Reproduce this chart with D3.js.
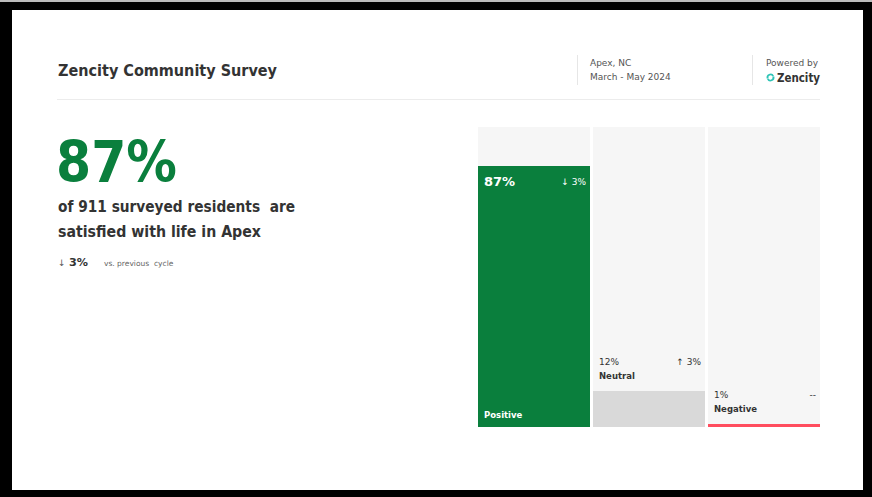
<!DOCTYPE html>
<html>
<head>
<meta charset="utf-8">
<script src="https://cdn.jsdelivr.net/npm/d3@7"></script>
<style>
  html, body { margin: 0; padding: 0; background: #000; }
  svg { display: block; }
  text { font-family: "DejaVu Sans", Verdana, sans-serif; white-space: pre; }
</style>
</head>
<body>
<svg id="chart" width="872" height="497"></svg>
<script>
"use strict"

// survey data
const categories = ["Positive", "Neutral", "Negative"]
const shares     = [87, 12, 1]
const changes    = ["↓ 3%", "↑ 3%", "--"]
const barColors  = ["#0a7f3d", "#d9d9d9", "#ff4d5e"]

const title    = "Zencity Community Survey"
const place    = ["Apex, NC", "March - May 2024"]
const headline = "87%"
const subtitle = ["of 911 surveyed residents  are", "satisfied with life in Apex"]
const delta    = ["↓", "3%", "vs. previous  cycle"]

const svg = d3.select("#chart")

// frame
svg.append("rect").attr("x", 0).attr("y", 0).attr("width", 872).attr("height", 2).attr("fill", "#bbb")
svg.append("rect").attr("x", 12).attr("y", 10).attr("width", 851).attr("height", 480).attr("fill", "#fff")

// header
svg.append("text").attr("x", 58).attr("y", 76)
   .attr("font-size", 15.5).attr("font-weight", "bold").attr("fill", "#333")
   .attr("textLength", 219).attr("lengthAdjust", "spacingAndGlyphs")
   .text(title)

svg.append("line").attr("x1", 57).attr("x2", 820).attr("y1", 99.5).attr("y2", 99.5)
   .attr("stroke", "#ececec").attr("stroke-width", 1)

svg.selectAll("line.sep").data([577.5, 752.5]).enter().append("line")
   .attr("class", "sep")
   .attr("x1", d => d).attr("x2", d => d).attr("y1", 55).attr("y2", 85)
   .attr("stroke", "#e6e6e6")

svg.selectAll("text.place").data(place).enter().append("text")
   .attr("class", "place")
   .attr("x", 590).attr("y", (d, i) => 66 + i * 14)
   .attr("font-size", 9).attr("fill", "#555")
   .text(d => d)

svg.append("text").attr("x", 766).attr("y", 66)
   .attr("font-size", 9).attr("fill", "#555").text("Powered by")

// little sync-like logo mark
const logo = svg.append("g").attr("transform", "translate(770.5,77.5)")
const arc = d3.arc().innerRadius(2.1).outerRadius(3.9)
logo.append("path").attr("d", arc({startAngle: -1.9, endAngle: 1.1})).attr("fill", "#2ec4b6")
logo.append("path").attr("d", arc({startAngle: Math.PI - 1.9, endAngle: Math.PI + 1.1})).attr("fill", "#2ec4b6")
svg.append("text").attr("x", 777).attr("y", 81.5)
   .attr("font-size", 12).attr("font-weight", "bold").attr("fill", "#333")
   .attr("textLength", 43).attr("lengthAdjust", "spacingAndGlyphs")
   .text("Zencity")

// big number block
svg.append("text").attr("x", 56).attr("y", 182)
   .attr("font-size", 57).attr("font-weight", "bold").attr("fill", "#0a7f3d")
   .attr("textLength", 121).attr("lengthAdjust", "spacingAndGlyphs")
   .text(headline)

svg.selectAll("text.sub").data(subtitle).enter().append("text")
   .attr("class", "sub")
   .attr("x", 58).attr("y", (d, i) => 211.5 + i * 25)
   .attr("font-size", 15).attr("font-weight", "bold").attr("fill", "#333")
   .attr("textLength", (d, i) => i == 0 ? 237 : 203).attr("lengthAdjust", "spacingAndGlyphs")
   .text(d => d)

svg.append("text").attr("x", 58).attr("y", 266).attr("font-size", 9).attr("fill", "#555").text(delta[0])
svg.append("text").attr("x", 69).attr("y", 266).attr("font-size", 11).attr("font-weight", "bold")
   .attr("fill", "#333").attr("textLength", 19).attr("lengthAdjust", "spacingAndGlyphs").text(delta[1])
svg.append("text").attr("x", 104).attr("y", 265.5).attr("font-size", 7.5).attr("fill", "#666").text(delta[2])

// bars
const x = d3.scaleBand().domain(categories).range([478, 820]).paddingInner(3 / 115).paddingOuter(0)
const y = d3.scaleLinear().domain([0, 100]).range([427, 127])
const bw = x.bandwidth()

const cols = svg.selectAll("g.col").data(categories).enter().append("g").attr("class", "col")

cols.append("rect")
    .attr("x", d => x(d)).attr("y", y(100)).attr("width", bw).attr("height", y(0) - y(100))
    .attr("fill", "#f6f6f6")

cols.append("rect")
    .attr("x", d => x(d)).attr("y", (d, i) => y(shares[i])).attr("width", bw)
    .attr("height", (d, i) => y(0) - y(shares[i]))
    .attr("fill", (d, i) => barColors[i])

// labels: inside for the tall bar, above for the others
const inside = (i) => y(0) - y(shares[i]) > 60

cols.append("text")
    .attr("x", d => x(d) + 6)
    .attr("y", (d, i) => inside(i) ? y(shares[i]) + 20 : y(shares[i]) - 26)
    .attr("font-size", (d, i) => inside(i) ? 13 : 9)
    .attr("font-weight", (d, i) => inside(i) ? "bold" : "normal")
    .attr("fill", (d, i) => inside(i) ? "#fff" : "#333")
    .text((d, i) => shares[i] + "%")

cols.append("text")
    .attr("x", d => x(d) + bw - 4)
    .attr("y", (d, i) => inside(i) ? y(shares[i]) + 19 : y(shares[i]) - 26)
    .attr("text-anchor", "end")
    .attr("font-size", 9)
    .attr("fill", (d, i) => inside(i) ? "#fff" : "#333")
    .text((d, i) => changes[i])

cols.append("text")
    .attr("x", d => x(d) + 6)
    .attr("y", (d, i) => inside(i) ? y(0) - 9 : y(shares[i]) - 12)
    .attr("font-size", 8.5).attr("font-weight", "bold")
    .attr("fill", (d, i) => inside(i) ? "#fff" : "#333")
    .text(d => d)
</script>
</body>
</html>
